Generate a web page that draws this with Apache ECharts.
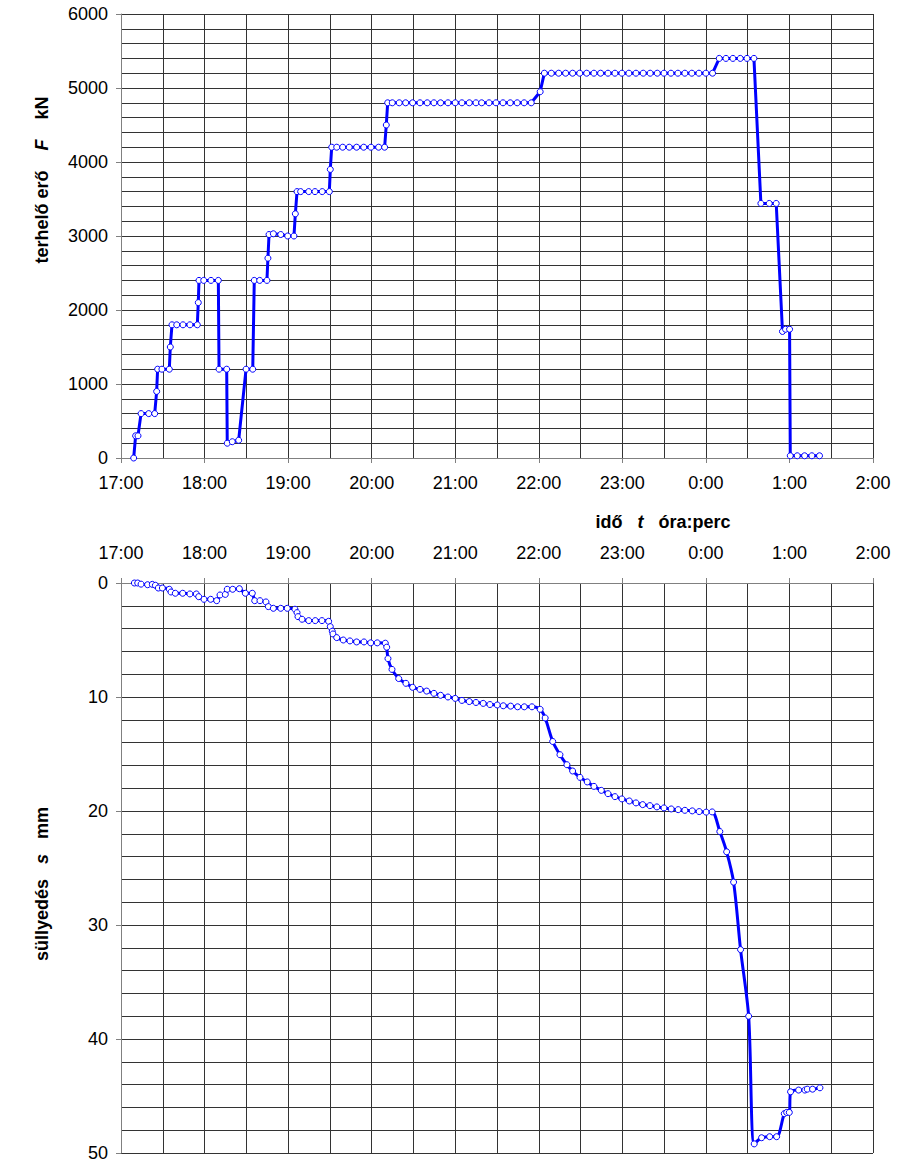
<!DOCTYPE html>
<html><head><meta charset="utf-8">
<script src="https://cdn.jsdelivr.net/npm/echarts@6/dist/echarts.min.js"></script>
<style>html,body{margin:0;padding:0;background:#fff}#c{width:917px;height:1164px}</style>
</head><body><div id="c"></div>
<script>
// time in minutes after 17:00
const timeTickLabels = ['17:00','18:00','19:00','20:00','21:00','22:00','23:00','0:00','1:00','2:00'];

// [time (min after 17:00), load F kN]
const loadReadings = [
[9.1,0],[10.5,300],[12.2,300],[14.4,600],[19.9,600],[24.2,600],[25.6,900],[26.3,1200],[29.4,1200],[34.7,1200],
[35.4,1500],[36.6,1800],[40,1800],[44.5,1800],[49.5,1800],[54.8,1800],[55.5,2100],[56,2400],[59.4,2400],[64.6,2400],
[69.9,2400],[70.4,1200],[75.9,1200],[76.3,200],[79.9,220],[84.5,240],[89.8,1200],[94.6,1200],[95.7,2400],[99.6,2400],
[104.8,2400],[105.5,2700],[106.3,3020],[109.4,3030],[114.7,3020],[119.7,3000],[124.2,3000],[125.2,3300],[126.4,3600],[129,3600],
[134.8,3600],[139.3,3600],[144.5,3600],[149.6,3600],[150.3,3900],[151.3,4200],[154.9,4200],[159.2,4200],[163.9,4200],[169.2,4200],
[174.3,4200],[179.5,4200],[185,4200],[189.3,4200],[190.5,4500],[191.5,4800],[194.8,4800],[199.8,4800],[204.4,4800],[209.4,4800],
[214.7,4800],[219.9,4800],[224.7,4800],[229.5,4800],[234.8,4800],[240,4800],[244.8,4800],[250.1,4800],[254.9,4800],[259,4800],
[264.3,4800],[269.3,4800],[274.3,4800],[279.5,4800],[284.5,4800],[289.5,4800],[294.6,4800],[301,4950],[304,5200],[309,5200],
[314.3,5200],[319.3,5200],[324.3,5200],[329.4,5200],[334.4,5200],[339.6,5200],[344.4,5200],[349.7,5200],[354.7,5200],[359.7,5200],
[364.7,5200],[369.8,5200],[375,5200],[380,5200],[385.1,5200],[389.9,5200],[394.9,5200],[399.9,5200],[404.9,5200],[409.9,5200],
[415,5200],[420,5200],[424.8,5200],[429.6,5400],[434.4,5400],[439.4,5400],[444.7,5400],[449.5,5400],[454.5,5400],[459.5,3440],
[465.5,3440],[470.5,3440],[475,1710],[477.2,1740],[480.1,1740],[480.6,30],[485.6,30],[490.9,30],[496.1,30],[501.6,30]
];

// [time (min after 17:00), settlement s mm]
const settlementReadings = [
[9.6,0],[12,0],[14.4,0.1],[19.1,0.15],[22.5,0.12],[24.7,0.2],[26.8,0.44],[29.7,0.44],[34.7,0.55],[35.9,0.79],
[39,0.9],[44.3,0.9],[49.5,0.96],[54.1,0.96],[55.8,1.2],[59.6,1.43],[64.4,1.43],[68.7,1.55],[71.1,1.05],[74.9,1.0],
[76.3,0.55],[80.2,0.55],[85,0.5],[89.3,0.9],[94.3,0.9],[96,1.55],[99.8,1.55],[104.1,1.66],[105.8,2.07],[109.4,2.22],
[114.7,2.22],[119.4,2.22],[124.9,2.3],[126.4,2.6],[127.1,2.95],[130,3.18],[134.8,3.3],[139.5,3.3],[144.3,3.3],[149.1,3.36],
[150.3,3.83],[151.7,4.23],[152.2,4.47],[154.9,4.79],[159.6,5.0],[164.4,5.08],[169.2,5.17],[174.5,5.17],[179.3,5.25],[184,5.25],
[189.8,5.28],[190.8,5.63],[191.7,6.63],[194.6,7.58],[199.4,8.38],[204.6,8.8],[209.4,9.15],[214.7,9.33],[219.5,9.48],[224.7,9.68],
[229.5,9.85],[234.8,10.0],[240,10.12],[244.8,10.3],[250.1,10.4],[254.9,10.48],[260.1,10.56],[264.9,10.66],[270.2,10.7],[274.5,10.77],
[279.8,10.8],[284.8,10.86],[289.6,10.86],[295.1,10.86],[301,11.08],[304.6,11.84],[310,13.9],[315.2,15.06],[320.2,15.94],[324.3,16.49],
[329.6,17.05],[334.8,17.45],[339.6,17.84],[344.9,18.19],[349.7,18.48],[354.7,18.74],[359.7,18.94],[365,19.12],[369.8,19.29],[374.6,19.44],
[379.8,19.53],[384.8,19.64],[389.9,19.73],[395.1,19.82],[400.1,19.88],[404.9,19.94],[410.2,19.99],[415.2,20.05],[420.2,20.1],[424.5,20.08],
[430,21.8],[434.9,23.58],[439.9,26.24],[444.9,32.16],[450.7,38.0],[454.7,49.2],[460,48.66],[465.8,48.57],[470.8,48.57],[476.3,46.55],
[478,46.44],[479.9,46.44],[480.8,44.63],[486.6,44.48],[491.1,44.48],[492.8,44.4],[496.6,44.4],[501.9,44.28]
];

const FONT = '"Liberation Sans", Arial, sans-serif';
const gridLine = {show: true, lineStyle: {color: '#333', width: 1}};

function xAxisCfg(gridIndex, position, margin) {
  return {
    type: 'value', gridIndex, position, min: 0, max: 540, interval: 60,
    axisLine: {show: true, onZero: false, lineStyle: {color: '#808080'}},
    axisTick: {show: true, length: 5, inside: false, lineStyle: {color: '#808080'}},
    minorTick: {show: false, splitNumber: 2},
    axisLabel: {fontFamily: FONT, fontSize: 18, color: '#000', margin,
      formatter: v => timeTickLabels[Math.round(v / 60)]},
    splitLine: gridLine, minorSplitLine: gridLine
  };
}
function yAxisCfg(gridIndex, min, max, interval, inverse) {
  return {
    type: 'value', gridIndex, min, max, interval, inverse,
    axisLine: {show: true, onZero: false, lineStyle: {color: '#808080'}},
    axisTick: {show: true, length: 5, inside: false, lineStyle: {color: '#808080'}},
    minorTick: {show: false, splitNumber: 5},
    axisLabel: {fontFamily: FONT, fontSize: 18, color: '#000', margin: 13,
      formatter: v => String(v)},
    splitLine: gridLine, minorSplitLine: gridLine
  };
}

const titleRich = {
  b: {fontFamily: FONT, fontSize: 18, fontWeight: 'bold', fill: '#000', color: '#000'},
  i: {fontFamily: FONT, fontSize: 18, fontWeight: 'bold', fontStyle: 'italic', fill: '#000', color: '#000'}
};

const chart = echarts.init(document.getElementById('c'), null, {renderer: 'svg'});
chart.setOption({
  animation: false,
  backgroundColor: '#fff',
  grid: [
    {left: 121, right: 44, top: 14, height: 444, containLabel: false},
    {left: 121, right: 44, top: 583, height: 570, containLabel: false}
  ],
  xAxis: [xAxisCfg(0, 'bottom', 16), xAxisCfg(1, 'top', 21)],
  yAxis: [yAxisCfg(0, 0, 6000, 1000, false), yAxisCfg(1, 0, 50, 10, true)],
  graphic: [
    {type: 'text', x: 42, y: 180, rotation: Math.PI / 2,
      style: {text: '{b|terhelő erő}{b|    }{i|F}{b|    kN}', rich: titleRich, align: 'center', verticalAlign: 'middle'}},
    {type: 'text', x: 663, y: 522,
      style: {text: '{b|idő   }{i|t}{b|   óra:perc}', rich: titleRich, align: 'center', verticalAlign: 'middle'}},
    {type: 'text', x: 42, y: 884, rotation: Math.PI / 2,
      style: {text: '{b|süllyedés}{b|   }{i|s}{b|   mm}', rich: titleRich, align: 'center', verticalAlign: 'middle'}}
  ],
  series: [
    {type: 'line', xAxisIndex: 0, yAxisIndex: 0, data: loadReadings,
      symbol: 'circle', symbolSize: 6, showAllSymbol: true,
      itemStyle: {color: '#fff', borderColor: '#0000ff', borderWidth: 1},
      lineStyle: {color: '#0000ff', width: 3}},
    {type: 'line', xAxisIndex: 1, yAxisIndex: 1, data: settlementReadings,
      symbol: 'circle', symbolSize: 6, showAllSymbol: true, smooth: 0.3,
      itemStyle: {color: '#fff', borderColor: '#0000ff', borderWidth: 1},
      lineStyle: {color: '#0000ff', width: 3}}
  ]
});
</script>
</body></html>
